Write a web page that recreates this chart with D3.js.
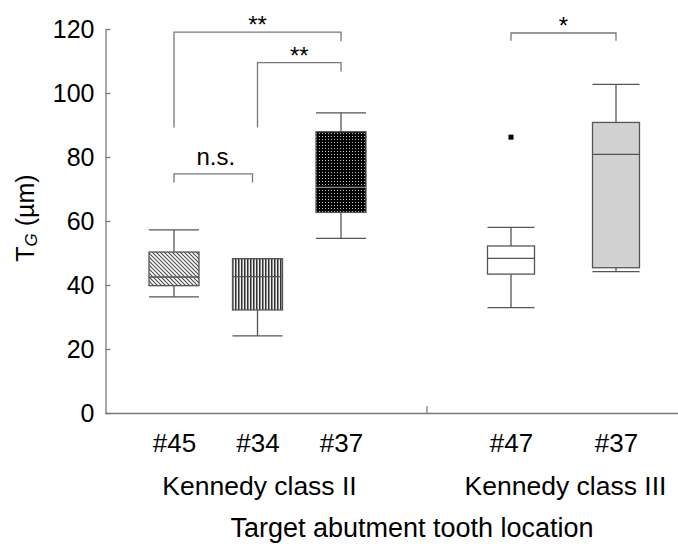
<!DOCTYPE html>
<html>
<head>
<meta charset="utf-8">
<script src="https://cdn.jsdelivr.net/npm/d3@7"></script>
<style>
  body { margin: 0; background: #fff; }
  svg { font-family: "Liberation Sans", Arial, sans-serif; }
</style>
</head>
<body>
<div id="chart"></div>
<script>
// data
const groups = ['Kennedy class II', 'Kennedy class III'];
const teeth = [['#45', '#34', '#37'], ['#47', '#37']];
const yTicks = [0, 20, 40, 60, 80, 100, 120];

const whiskerLow = [36.3, 24.1, 54.6, 32.9, 44.2];
const q1 = [39.8, 32.2, 62.7, 43.4, 45.4];
const median = [42.5, 42.6, 70.5, 48.3, 80.8];
const q3 = [50.3, 48.2, 87.9, 52.2, 90.8];
const whiskerHigh = [57.2, 48.2, 93.8, 58.0, 102.7];

const outlierBox = [3];
const outlierValue = [86.2];

// significance brackets (box index from/to, bracket level, leg ends)
const sigFrom = [0, 1, 0, 3];
const sigTo = [2, 2, 1, 4];
const sigLevel = [119, 109.5, 74.7, 118.75];
const sigLeftEnd = [89.2, 89.2, 72, 116.3];
const sigRightEnd = [116.2, 106.7, 72, 116.3];
const sigLabel = ['**', '**', 'n.s.', '*'];

const width = 678, height = 549;
const axisColor = '#7a7a7a', boxColor = '#555';
const fills = ['url(#diag)', 'url(#vert)', 'url(#dots)', '#ffffff', '#d2d2d2'];
const boxWidths = [50, 47];
const font = '"Liberation Sans", Arial, sans-serif';

const svg = d3.select('#chart').append('svg')
  .attr('width', width)
  .attr('height', height);

// fill patterns
const defs = svg.append('defs');
const diag = defs.append('pattern').attr('id', 'diag')
  .attr('patternUnits', 'userSpaceOnUse').attr('width', 4).attr('height', 4);
diag.append('rect').attr('width', 4).attr('height', 4).attr('fill', '#fff');
diag.append('path').attr('d', 'M-1,-1L5,5M-1,3L1,5M3,-1L5,1')
  .attr('stroke', '#4a4a4a').attr('stroke-width', 1.1);

const vert = defs.append('pattern').attr('id', 'vert')
  .attr('patternUnits', 'userSpaceOnUse').attr('width', 3).attr('height', 3);
vert.append('rect').attr('width', 3).attr('height', 3).attr('fill', '#8c8c8c');
vert.append('rect').attr('x', 0).attr('width', 1).attr('height', 3).attr('fill', '#eeeeee');
vert.append('rect').attr('x', 1).attr('width', 1).attr('height', 3).attr('fill', '#333');

const dots = defs.append('pattern').attr('id', 'dots')
  .attr('patternUnits', 'userSpaceOnUse').attr('width', 3).attr('height', 3);
dots.append('rect').attr('width', 3).attr('height', 3).attr('fill', '#000');
dots.append('rect').attr('x', 1).attr('y', 1).attr('width', 1).attr('height', 1).attr('fill', '#bdbdbd');

// scales
const y = d3.scaleLinear().domain([0, 120]).range([413, 29]);
const xScales = [
  d3.scalePoint().domain(teeth[0]).range([174, 341]),
  d3.scalePoint().domain(teeth[1]).range([511, 616])
];

const boxes = teeth.flatMap((list, g) => list.map(t => ({ g, t })));
boxes.forEach((b, i) => {
  b.x = xScales[b.g](b.t);
  b.w = boxWidths[b.g];
  b.low = whiskerLow[i]; b.q1 = q1[i]; b.med = median[i];
  b.q3 = q3[i]; b.high = whiskerHigh[i]; b.fill = fills[i];
});

// y axis
const yAxis = svg.append('g')
  .attr('transform', 'translate(105.5,0)')
  .call(d3.axisLeft(y).tickValues(yTicks).tickSizeInner(-5).tickSizeOuter(0).tickPadding(11));
yAxis.select('.domain').attr('stroke', axisColor).attr('stroke-width', 1.3);
yAxis.selectAll('.tick line').attr('stroke', axisColor).attr('stroke-width', 1.3);
yAxis.selectAll('.tick text')
  .attr('font-size', 25).attr('fill', '#000')
  .attr('font-family', font);

// bottom axis line and group separator
svg.append('line')
  .attr('x1', 105).attr('x2', width)
  .attr('y1', y(0) + 0.5).attr('y2', y(0) + 0.5)
  .attr('stroke', axisColor).attr('stroke-width', 1.3);
svg.append('line')
  .attr('x1', 427).attr('x2', 427)
  .attr('y1', y(0)).attr('y2', y(0) - 7)
  .attr('stroke', axisColor).attr('stroke-width', 1.2);

// tooth labels
xScales.forEach(sc => {
  const ax = svg.append('g')
    .attr('transform', `translate(0,${y(0)})`)
    .call(d3.axisBottom(sc).tickSize(0).tickPadding(21));
  ax.select('.domain').remove();
  ax.selectAll('text')
    .attr('font-size', 26).attr('fill', '#000')
    .attr('font-family', font);
});

// group labels
svg.selectAll('.group-label')
  .data(groups)
  .enter().append('text')
  .attr('class', 'group-label')
  .attr('x', (d, g) => d3.mean(xScales[g].range()) + 2)
  .attr('y', 495)
  .attr('text-anchor', 'middle')
  .attr('font-size', 26.5)
  .attr('fill', '#000')
  .text(d => d);

svg.append('text')
  .attr('x', 412).attr('y', 537)
  .attr('text-anchor', 'middle')
  .attr('font-size', 27)
  .attr('fill', '#000')
  .text('Target abutment tooth location');

// y label
const yLabel = svg.append('text')
  .attr('transform', 'translate(34,218) rotate(-90)')
  .attr('text-anchor', 'middle')
  .attr('font-size', 25)
  .attr('fill', '#000');
yLabel.append('tspan').text('T');
yLabel.append('tspan').attr('font-size', 17).attr('font-style', 'italic').attr('dy', 3).text('G');
yLabel.append('tspan').attr('dy', -3).text(' (\u00b5m)');

// boxes
const bx = svg.append('g').selectAll('g')
  .data(boxes)
  .enter().append('g');

bx.append('line')
  .attr('x1', d => d.x).attr('x2', d => d.x)
  .attr('y1', d => y(d.high)).attr('y2', d => y(d.low))
  .attr('stroke', boxColor).attr('stroke-width', 1.3);
bx.append('line')
  .attr('x1', d => d.x - d.w / 2).attr('x2', d => d.x + d.w / 2)
  .attr('y1', d => y(d.high)).attr('y2', d => y(d.high))
  .attr('stroke', boxColor).attr('stroke-width', 1.3);
bx.append('line')
  .attr('x1', d => d.x - d.w / 2).attr('x2', d => d.x + d.w / 2)
  .attr('y1', d => y(d.low)).attr('y2', d => y(d.low))
  .attr('stroke', boxColor).attr('stroke-width', 1.3);
bx.append('rect')
  .attr('x', d => d.x - d.w / 2)
  .attr('y', d => y(d.q3))
  .attr('width', d => d.w)
  .attr('height', d => y(d.q1) - y(d.q3))
  .attr('fill', d => d.fill)
  .attr('stroke', boxColor).attr('stroke-width', 1.3);
bx.append('line')
  .attr('x1', d => d.x - d.w / 2).attr('x2', d => d.x + d.w / 2)
  .attr('y1', d => y(d.med)).attr('y2', d => y(d.med))
  .attr('stroke', (d, i) => i === 2 ? '#8a8a8a' : boxColor).attr('stroke-width', 1.3);

// outliers
svg.selectAll('.outlier')
  .data(outlierValue)
  .enter().append('rect')
  .attr('class', 'outlier')
  .attr('x', (d, i) => boxes[outlierBox[i]].x - 2.5)
  .attr('y', d => y(d) - 2.5)
  .attr('width', 5).attr('height', 5)
  .attr('fill', '#000');

// significance brackets
const sig = svg.append('g').selectAll('g')
  .data(sigLabel)
  .enter().append('g');

sig.append('path')
  .attr('d', (d, i) => {
    const x1 = boxes[sigFrom[i]].x;
    const x2 = boxes[sigTo[i]].x - (d === 'n.s.' ? 5 : 0);
    return `M${x1},${y(sigLeftEnd[i])}V${y(sigLevel[i])}H${x2}V${y(sigRightEnd[i])}`;
  })
  .attr('fill', 'none')
  .attr('stroke', '#777')
  .attr('stroke-width', 1.3);

sig.append('text')
  .attr('x', (d, i) => (boxes[sigFrom[i]].x + boxes[sigTo[i]].x) / 2)
  .attr('y', (d, i) => y(sigLevel[i]) + (d === 'n.s.' ? -9 : 1))
  .attr('text-anchor', 'middle')
  .attr('font-size', 24)
  .attr('fill', '#000')
  .text(d => d);
</script>
</body>
</html>
